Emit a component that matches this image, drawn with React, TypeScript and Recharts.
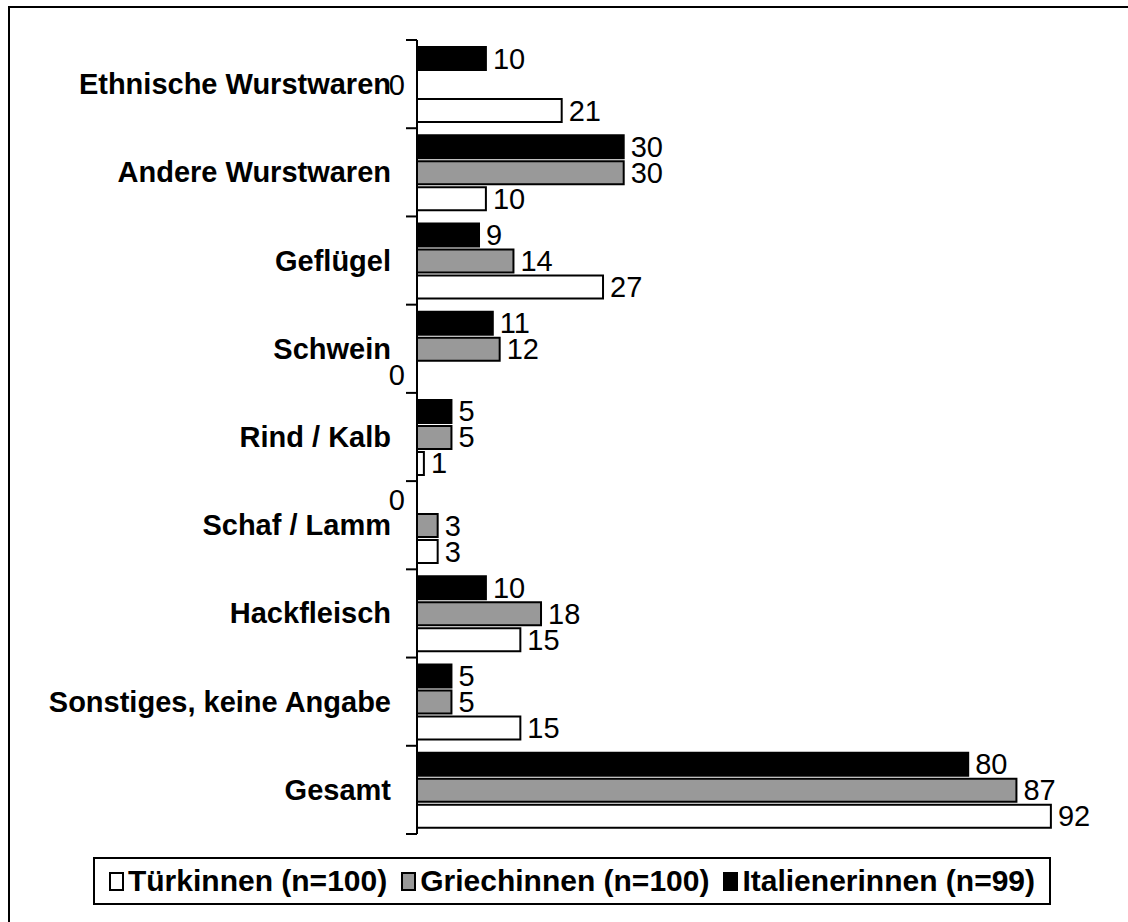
import React from 'react'
import { BarChart, Bar, XAxis, YAxis, LabelList, Rectangle } from 'recharts'

const categories = [
  'Ethnische Wurstwaren',
  'Andere Wurstwaren',
  'Geflügel',
  'Schwein',
  'Rind / Kalb',
  'Schaf / Lamm',
  'Hackfleisch',
  'Sonstiges, keine Angabe',
  'Gesamt',
]
const italienerinnen = [10, 30, 9, 11, 5, 0, 10, 5, 80]
const griechinnen = [0, 30, 14, 12, 5, 3, 18, 5, 87]
const tuerkinnen = [21, 10, 27, 0, 1, 3, 15, 15, 92]

const seriesNames = ['Türkinnen (n=100)', 'Griechinnen (n=100)', 'Italienerinnen (n=99)']

const FONT = '"Liberation Sans", Arial, sans-serif'
const TICK_MARGIN = 26
const GRAY = '#999999'

const data = categories.map((name, i) => ({
  name,
  it: italienerinnen[i],
  gr: griechinnen[i],
  tr: tuerkinnen[i],
}))

function CategoryTick(props: any) {
  const { x, y, payload, index } = props
  const axisX = x + TICK_MARGIN
  const half = payload?.offset || 44
  const last = index === categories.length - 1
  return (
    <g>
      <line x1={axisX - 11} x2={axisX} y1={y - half} y2={y - half} stroke="#000" strokeWidth={2} />
      {last && (
        <line x1={axisX - 11} x2={axisX} y1={y + half} y2={y + half} stroke="#000" strokeWidth={2} />
      )}
      <text
        x={x}
        y={y}
        textAnchor="end"
        dominantBaseline="central"
        fontFamily={FONT}
        fontWeight="bold"
        fontSize={29}
        fill="#000"
      >
        {payload.value}
      </text>
    </g>
  )
}

function ValueLabel(props: any) {
  const { x, y, width, height, value } = props
  const zero = Number(value) === 0
  return (
    <text
      x={zero ? x - 12 : x + width + 7}
      y={y + height / 2}
      textAnchor={zero ? 'end' : 'start'}
      dominantBaseline="central"
      fontFamily={FONT}
      fontSize={29}
      fill="#000"
    >
      {value}
    </text>
  )
}

// zero values keep a hairline rect so their label still exists, but draw nothing
const barShape = (key: string) => (p: any) =>
  p.payload && p.payload[key] === 0 ? <g /> : <Rectangle {...p} />

function Swatch({ fill }: { fill: string }) {
  return (
    <span
      style={{
        display: 'inline-block',
        width: 11,
        height: 15,
        background: fill,
        border: '2px solid #000',
        marginRight: 4,
      }}
    />
  )
}

export default function App() {
  const fills = ['#ffffff', GRAY, '#000000']
  return (
    <div style={{ position: 'absolute', left: 0, top: 0, width: 1128, height: 922, background: '#fff' }}>
      <div
        style={{
          position: 'absolute',
          left: 8,
          top: 6,
          width: 1120,
          height: 916,
          borderTop: '2.5px solid #000',
          borderLeft: '2.5px solid #000',
          boxSizing: 'border-box',
        }}
      />
      <div style={{ position: 'absolute', left: 0, top: 0 }}>
        <BarChart
          width={1128}
          height={850}
          data={data}
          layout="vertical"
          margin={{ top: 40, right: 22, bottom: 16, left: 0 }}
          barCategoryGap={7}
          barGap={3}
        >
          <XAxis type="number" domain={[0, 100]} hide />
          <YAxis
            type="category"
            dataKey="name"
            width={417}
            axisLine={{ stroke: '#000', strokeWidth: 2 }}
            tickLine={false}
            tickSize={0}
            tickMargin={TICK_MARGIN}
            tick={<CategoryTick />}
            interval={0}
          />
          <Bar
            dataKey="it"
            fill="#000"
            stroke="#000"
            strokeWidth={2}
            minPointSize={0.01}
            shape={barShape('it')}
            isAnimationActive={false}
          >
            <LabelList dataKey="it" content={<ValueLabel />} />
          </Bar>
          <Bar
            dataKey="gr"
            fill={GRAY}
            stroke="#000"
            strokeWidth={2}
            minPointSize={0.01}
            shape={barShape('gr')}
            isAnimationActive={false}
          >
            <LabelList dataKey="gr" content={<ValueLabel />} />
          </Bar>
          <Bar
            dataKey="tr"
            fill="#fff"
            stroke="#000"
            strokeWidth={2}
            minPointSize={0.01}
            shape={barShape('tr')}
            isAnimationActive={false}
          >
            <LabelList dataKey="tr" content={<ValueLabel />} />
          </Bar>
        </BarChart>
      </div>
      <div
        style={{
          position: 'absolute',
          left: 93,
          top: 857,
          width: 958,
          height: 48,
          border: '2px solid #000',
          boxSizing: 'border-box',
          display: 'flex',
          alignItems: 'center',
          justifyContent: 'center',
          gap: 14,
          fontFamily: FONT,
          fontWeight: 'bold',
          fontSize: 30,
          whiteSpace: 'nowrap',
        }}
      >
        {seriesNames.map((s, i) => (
          <span key={s} style={{ display: 'flex', alignItems: 'center' }}>
            <Swatch fill={fills[i]} />
            {s}
          </span>
        ))}
      </div>
    </div>
  )
}
